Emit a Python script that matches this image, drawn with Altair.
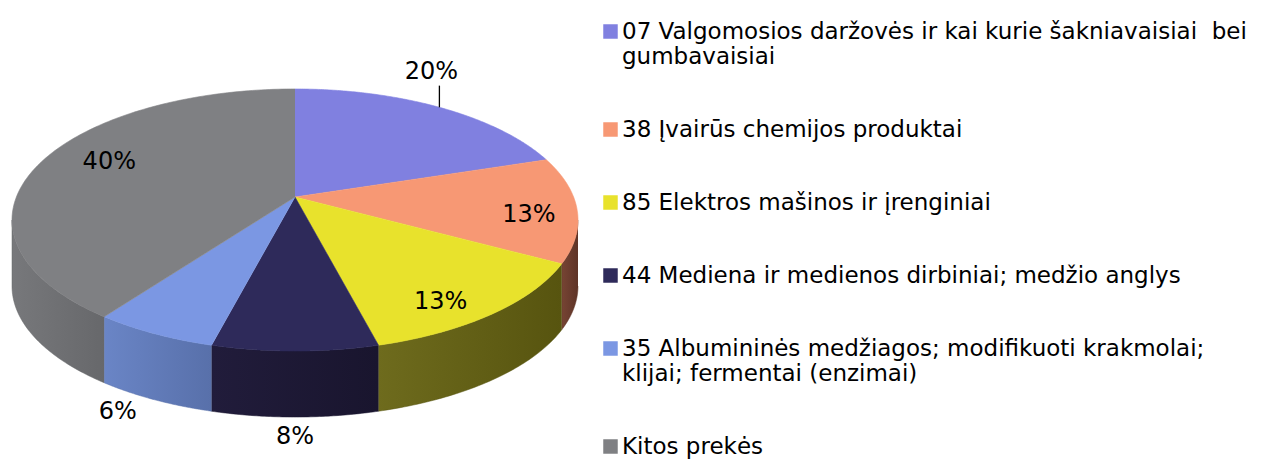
import altair as alt
import pandas as pd

# ---- data ----
CATEGORIES = [
    "07 Valgomosios daržovės ir kai kurie šakniavaisiai\u00a0 bei|gumbavaisiai",
    "38 Įvairūs chemijos produktai",
    "85 Elektros mašinos ir įrenginiai",
    "44 Mediena ir medienos dirbiniai; medžio anglys",
    "35 Albumininės medžiagos; modifikuoti krakmolai;|klijai; fermentai (enzimai)",
    "Kitos prekės",
]
VALUES = [20, 13, 13, 8, 6, 40]

# ---- styles ----
COLORS = ["#8080E0", "#F79874", "#E8E22C", "#2E2A5A", "#7B97E3", "#7F8083"]
SIDE_GRADIENTS = [
    ("#4B4B8A", "#404078"),
    ("#774434", "#5E3427"),
    ("#6E6B1D", "#57540F"),
    ("#211C3B", "#19152E"),
    ("#6A85C6", "#5870AA"),
    ("#77787B", "#67686B"),
]
LABEL_KX = [0.82, 0.83, 0.84, 1.0, 1.47, 0.69]
LABEL_KY = [1.40, -0.41, 0.79, 1.66, 1.62, 1.43]
LEADER = [1, 0, 0, 0, 0, 0]

W, H = 1264, 452
# perspective pie geometry
CX, AY = 287, 189
RX, RY, K = 278.6, 127, 0.1756
DEPTH = 66
# label frame
LCX, LCY, LRX, LRY = 287, 212, 283, 131
N = 140
M = 60
FONT = "DejaVu Sans"

df = pd.DataFrame({
    "cat": CATEGORIES,
    "value": VALUES,
    "order": list(range(len(VALUES))),
    "topc": COLORS,
    "kx": LABEL_KX,
    "ky": LABEL_KY,
    "leader": LEADER,
})

xs = alt.Scale(domain=[0, W], nice=False, zero=False)
ys = alt.Scale(domain=[0, H], nice=False, zero=False, reverse=True)
cscale = alt.Scale(domain=CATEGORIES, range=COLORS)

base = (
    alt.Chart(df)
    .transform_joinaggregate(total="sum(value)")
    .transform_window(cum="sum(value)", sort=[alt.SortField("order")], frame=[None, 0])
    .transform_calculate(
        a0="2*PI*(datum.cum-datum.value)/datum.total",
        a1="2*PI*datum.cum/datum.total",
    )
)


def proj_x(a):
    return f"{CX} + {RX}*sin({a})/(1 + {K}*cos({a}))"


def proj_y(a):
    return f"{AY} - {RY}*cos({a})/(1 + {K}*cos({a}))"


# side faces (visible front part only), one layer per slice for its gradient
sil = f"acos(-{K})"
side_base = (
    base.transform_calculate(s0=f"max(datum.a0, {sil})", s1=f"min(datum.a1, 2*PI - {sil})")
    .transform_filter("datum.s1 > datum.s0")
    .transform_calculate(seq=f"sequence(0, {2 * M})")
    .transform_flatten(["seq"])
    .transform_calculate(
        ang=f"datum.seq < {M} ? datum.s0 + (datum.s1-datum.s0)*datum.seq/{M - 1} : datum.s1 - (datum.s1-datum.s0)*(datum.seq-{M})/{M - 1}"
    )
    .transform_calculate(
        px=proj_x("datum.ang"),
        py=f"{proj_y('datum.ang')} + (datum.seq < {M} ? 0 : {DEPTH})",
    )
)

side_layers = []
for i, (c_left, c_right) in enumerate(SIDE_GRADIENTS):
    grad = alt.Gradient(
        gradient="linear",
        x1=0, x2=1, y1=0, y2=0,
        stops=[
            alt.GradientStop(color=c_left, offset=0),
            alt.GradientStop(color=c_right, offset=1),
        ],
    )
    side_layers.append(
        side_base.transform_filter(f"datum.order == {i}")
        .mark_line(filled=True, fill=grad, stroke=c_right, strokeWidth=0.5, interpolate="linear")
        .encode(
            x=alt.X("px:Q", scale=xs, axis=None),
            y=alt.Y("py:Q", scale=ys, axis=None),
            detail="cat:N",
            order="seq:Q",
        )
    )

# top faces
top = (
    base.transform_calculate(seq=f"sequence(0, {N + 2})")
    .transform_flatten(["seq"])
    .transform_calculate(ang=f"datum.a0 + (datum.a1-datum.a0)*(datum.seq-1)/{N}")
    .transform_calculate(
        px=f"datum.seq == 0 ? {CX} : {proj_x('datum.ang')}",
        py=f"datum.seq == 0 ? {AY} : {proj_y('datum.ang')}",
    )
    .mark_line(filled=True, strokeWidth=0.6, interpolate="linear")
    .encode(
        x=alt.X("px:Q", scale=xs, axis=None),
        y=alt.Y("py:Q", scale=ys, axis=None),
        fill=alt.Fill(
            "cat:N",
            scale=cscale,
            legend=alt.Legend(
                title=None,
                orient="none",
                legendX=591,
                legendY=12,
                symbolType="square",
                symbolSize=210,
                symbolStrokeWidth=0,
                symbolOpacity=1,
                labelFont=FONT,
                labelFontSize=23,
                labelColor="#000000",
                labelLimit=900,
                labelOffset=0,
                rowPadding=49,
                padding=0,
                labelExpr="split(datum.label, '|')",
            ),
        ),
        stroke=alt.Stroke("topc:N", scale=None),
        detail="cat:N",
        order="seq:Q",
    )
)

labels = (
    base.transform_calculate(
        mid="(datum.a0+datum.a1)/2",
        pct="format(datum.value/datum.total, '.0%')",
    )
    .transform_calculate(
        px=f"{LCX} + datum.kx*{LRX}*sin(datum.mid)",
        py=f"{LCY} - datum.ky*{LRY}*cos(datum.mid)",
    )
    .mark_text(font=FONT, fontSize=24, color="#000000")
    .encode(
        x=alt.X("px:Q", scale=xs, axis=None),
        y=alt.Y("py:Q", scale=ys, axis=None),
        text="pct:N",
    )
)

leader = (
    base.transform_filter("datum.leader == 1")
    .transform_calculate(mid="(datum.a0+datum.a1)/2")
    .transform_calculate(
        lx=f"{LCX} + datum.kx*{LRX}*sin(datum.mid) + 8",
        ly=f"{LCY} - datum.ky*{LRY}*cos(datum.mid) + 14",
    )
    .transform_calculate(ly2=f"{LCY} - {LRY}*sqrt(1 - pow((datum.lx-{LCX})/{LRX}, 2))")
    .mark_rule(color="#000000", strokeWidth=1.3)
    .encode(
        x=alt.X("lx:Q", scale=xs, axis=None),
        y=alt.Y("ly:Q", scale=ys, axis=None),
        y2="ly2:Q",
    )
)

chart = (
    alt.layer(*side_layers, top, leader, labels)
    .properties(width=W, height=H, padding=0, autosize=alt.AutoSizeParams(type="none"))
    .configure_view(stroke=None)
)

chart.save("out.html", embed_options={"renderer": "svg", "actions": False})
